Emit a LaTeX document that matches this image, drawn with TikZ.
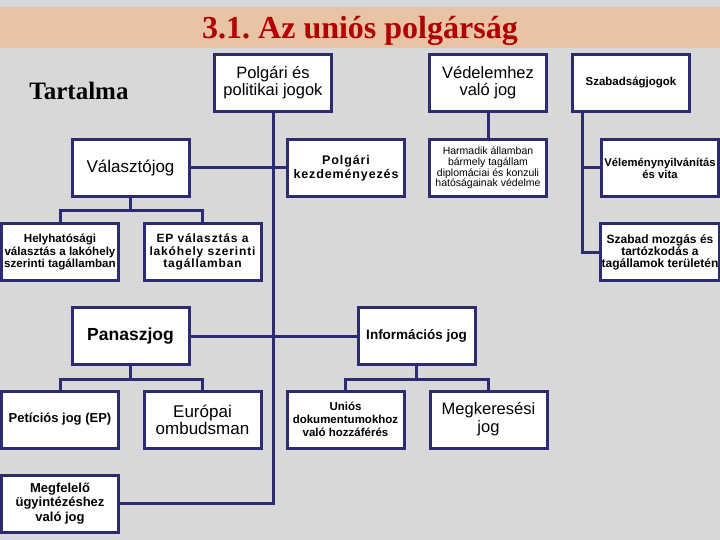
\documentclass[tikz,border=0pt]{standalone}
\usepackage{fontspec}
\setmainfont{Liberation Sans}
\newfontfamily\titlefont{Liberation Serif}
\newfontfamily\spacedfont[LetterSpace=7]{Liberation Sans}
\definecolor{bg}{RGB}{216,216,216}
\definecolor{band}{RGB}{232,196,164}
\definecolor{titlered}{RGB}{176,0,0}
\definecolor{navy}{RGB}{44,44,112}
\frenchspacing
\tikzset{
  box/.style={draw=navy, line width=3pt, fill=white, minimum width=117pt,
    minimum height=57pt, inner sep=1pt, align=center, text=black},
  conn/.style={draw=navy, line width=3pt},
}
\begin{document}
\begin{tikzpicture}[x=1pt,y=-1pt]
\fill[bg] (0,0) rectangle (720,540);
\useasboundingbox (0,0) rectangle (720,540);
\fill[band] (0,7) rectangle (720,48);
\node[anchor=base, inner sep=0pt, text=titlered,
  font=\titlefont\bfseries\fontsize{32}{32}\selectfont] (title) at (360,39) {3.1. Az uniós polgárság};
\node[anchor=base, inner sep=0pt,
  font=\titlefont\bfseries\fontsize{25}{25}\selectfont] (tart) at (79,100) {Tartalma};

% top row
\node[box, font=\fontsize{16.5}{17}\selectfont] (A) at (273,83) {Polgári és\\politikai jogok};
\node[box, font=\fontsize{16.5}{17}\selectfont] (B) at (488,83) {Védelemhez\\való jog};
\node[box, font=\bfseries\fontsize{11.5}{12}\selectfont] (C) at (631,83) {Szabadságjogok};

% second row
\node[box, font=\fontsize{17}{18}\selectfont] (Val) at (130.5,168) {Választójog};
\node[box, font=\spacedfont\bfseries\fontsize{12.5}{14}\selectfont] (PK) at (346,168) {Polgári\\kezdeményezés};
\node[box, font=\fontsize{10.5}{10.7}\selectfont] (Harm) at (488,168) {Harmadik államban\\bármely tagállam\\diplomáciai és konzuli\\hatóságainak védelme};
\node[box, font=\bfseries\fontsize{11.3}{12}\selectfont] (Vel) at (660,168) {Véleménynyilvánítás\\és vita};

% third row
\node[box, font=\bfseries\fontsize{11.6}{12.3}\selectfont] (Hely) at (60,252) {Helyhatósági\\választás a lakóhely\\szerinti tagállamban};
\node[box, font=\spacedfont\bfseries\fontsize{12}{12.5}\selectfont] (EP) at (202.5,252) {EP választás a\\lakóhely szerinti\\tagállamban};
\node[box, font=\bfseries\fontsize{12}{12}\selectfont] (Szab) at (660,252) {Szabad mozgás és\\tartózkodás a\\tagállamok területén};

% fourth row
\node[box, font=\bfseries\fontsize{17.5}{18}\selectfont] (Pan) at (130.5,336) {Panaszjog};
\node[box, font=\bfseries\fontsize{13.5}{14}\selectfont] (Info) at (416.5,336) {Információs jog};

% fifth row
\node[box, font=\bfseries\fontsize{13}{14}\selectfont] (Pet) at (60,419.5) {Petíciós jog (EP)};
\node[box, font=\fontsize{17}{17}\selectfont] (Eur) at (202.5,419.5) {Európai\\ombudsman};
\node[box, font=\bfseries\fontsize{11.5}{13}\selectfont] (Uni) at (345.5,419.5) {Uniós\\dokumentumokhoz\\való hozzáférés};
\node[box, font=\fontsize{16.5}{18}\selectfont] (Meg) at (488.5,419.5) {Megkeresési\\jog};

% last row
\node[box, font=\bfseries\fontsize{13}{14.7}\selectfont] (Megf) at (60,503.5) {Megfelelő\\ügyintézéshez\\való jog};

% connectors
\draw[conn] (A.south) |- (Megf.east);
\draw[conn] (Val.east) -- (PK.west);
\draw[conn] (Pan.east) -- (Info.west);
\draw[conn] (B.south) -- (Harm.north);
\draw[conn] ([xshift=11.5pt]C.south west) |- (Vel.west);
\draw[conn] ([xshift=11.5pt]C.south west) |- (Szab.west);
\draw[conn] (Val.south) -- ++(0,13) -| (Hely.north);
\draw[conn] (Val.south) -- ++(0,13) -| (EP.north);
\draw[conn] (Pan.south) -- ++(0,13) -| (Pet.north);
\draw[conn] (Pan.south) -- ++(0,13) -| (Eur.north);
\draw[conn] (Info.south) -- ++(0,13) -| (Uni.north);
\draw[conn] (Info.south) -- ++(0,13) -| (Meg.north);
\end{tikzpicture}
\end{document}
